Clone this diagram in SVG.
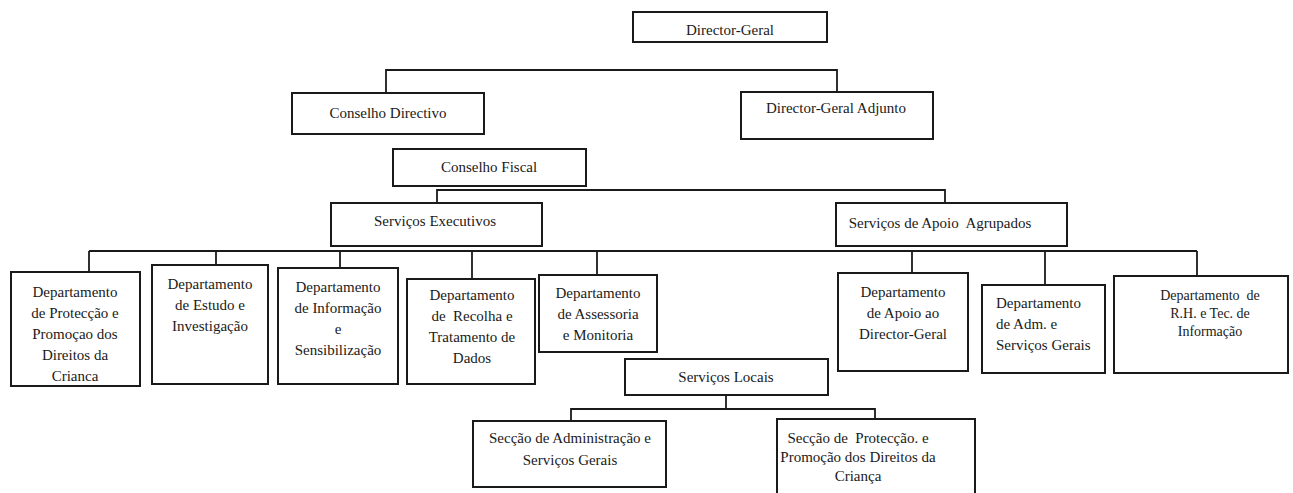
<svg xmlns="http://www.w3.org/2000/svg" width="1293" height="493" viewBox="0 0 1293 493">
<style>
.box{fill:#fff;stroke:#1a1a1a;stroke-width:2}
.ln{fill:none;stroke:#1a1a1a;stroke-width:1.8}
text{font-family:"Liberation Serif","Times New Roman",serif;font-size:15px;fill:#1a1a1a;text-anchor:middle;white-space:pre}
.sm{font-size:14px}
.l{text-anchor:start}
</style>
<rect width="1293" height="493" fill="#fff"/>
<g id="connectors">
<polyline class="ln" points="386,93 386,70 837,70 837,92"/>
<polyline class="ln" points="437,203 437,190 945,190 945,203"/>
<line class="ln" x1="89" y1="251" x2="1197" y2="251"/>
<line class="ln" x1="89" y1="251" x2="89" y2="272"/>
<line class="ln" x1="216" y1="251" x2="216" y2="265"/>
<line class="ln" x1="340" y1="251" x2="340" y2="268"/>
<line class="ln" x1="472" y1="251" x2="472" y2="279"/>
<line class="ln" x1="597" y1="251" x2="597" y2="275"/>
<line class="ln" x1="912" y1="251" x2="912" y2="273"/>
<line class="ln" x1="1045" y1="251" x2="1045" y2="285"/>
<line class="ln" x1="1197" y1="251" x2="1197" y2="276"/>
<line class="ln" x1="726" y1="395" x2="726" y2="409"/>
<polyline class="ln" points="571,421 571,409 875,409 875,419"/>
</g>
<g id="director-geral"><rect class="box" x="633" y="12" width="194" height="30"/><text x="730" y="35">Director-Geral</text></g>
<g id="conselho-directivo"><rect class="box" x="292" y="93" width="192" height="41"/><text x="388" y="118">Conselho Directivo</text></g>
<g id="director-geral-adjunto"><rect class="box" x="741" y="92" width="192" height="47"/><text x="836" y="113">Director-Geral Adjunto</text></g>
<g id="conselho-fiscal"><rect class="box" x="393" y="149" width="193" height="37"/><text x="489" y="172">Conselho Fiscal</text></g>
<g id="servicos-executivos"><rect class="box" x="331" y="203" width="211" height="43"/><text x="435" y="226">Serviços Executivos</text></g>
<g id="servicos-apoio"><rect class="box" x="836" y="203" width="231" height="43"/><text x="940" y="228">Serviços de Apoio  Agrupados</text></g>
<g id="dep-proteccao"><rect class="box" x="11" y="272" width="129" height="114"/>
<text x="75" y="297">Departamento</text><text x="75" y="318">de Protecção e</text><text x="75" y="339">Promoçao dos</text><text x="75" y="360">Direitos da</text><text x="75" y="381">Crianca</text></g>
<g id="dep-estudo"><rect class="box" x="152" y="265" width="116" height="119"/>
<text x="210" y="289">Departamento</text><text x="210" y="310">de Estudo e</text><text x="210" y="331">Investigação</text></g>
<g id="dep-informacao"><rect class="box" x="278" y="268" width="120" height="116"/>
<text x="338" y="292">Departamento</text><text x="338" y="313">de Informação</text><text x="338" y="334">e</text><text x="338" y="355">Sensibilização</text></g>
<g id="dep-recolha"><rect class="box" x="407" y="279" width="128" height="105"/>
<text x="472" y="300">Departamento</text><text x="472" y="321">de  Recolha e</text><text x="472" y="342">Tratamento de</text><text x="472" y="363">Dados</text></g>
<g id="dep-assessoria"><rect class="box" x="539" y="275" width="118" height="77"/>
<text x="598" y="298">Departamento</text><text x="598" y="319">de Assessoria</text><text x="598" y="340">e Monitoria</text></g>
<g id="dep-apoio-dg"><rect class="box" x="838" y="273" width="130" height="98"/>
<text x="903" y="297">Departamento</text><text x="903" y="318">de Apoio ao</text><text x="903" y="339">Director-Geral</text></g>
<g id="dep-adm"><rect class="box" x="982" y="285" width="123" height="88"/>
<text class="l" x="996" y="308">Departamento</text><text class="l" x="996" y="329">de Adm. e</text><text class="l" x="996" y="350">Serviços Gerais</text></g>
<g id="dep-rh"><rect class="box" x="1114" y="276" width="174" height="97"/>
<text class="sm" x="1210" y="300">Departamento  de</text><text class="sm" x="1210" y="318">R.H. e Tec. de</text><text class="sm" x="1210" y="336">Informação</text></g>
<g id="servicos-locais"><rect class="box" x="625" y="359" width="203" height="36"/><text x="726" y="382">Serviços Locais</text></g>
<g id="seccao-admin"><rect class="box" x="473" y="421" width="193" height="66"/>
<text x="570" y="443">Secção de Administração e</text><text x="570" y="465">Serviços Gerais</text></g>
<g id="seccao-proteccao"><rect class="box" x="777" y="419" width="198" height="80"/>
<text x="858" y="443">Secção de  Protecção. e</text><text x="858" y="462">Promoção dos Direitos da</text><text x="858" y="481">Criança</text></g>
</svg>
